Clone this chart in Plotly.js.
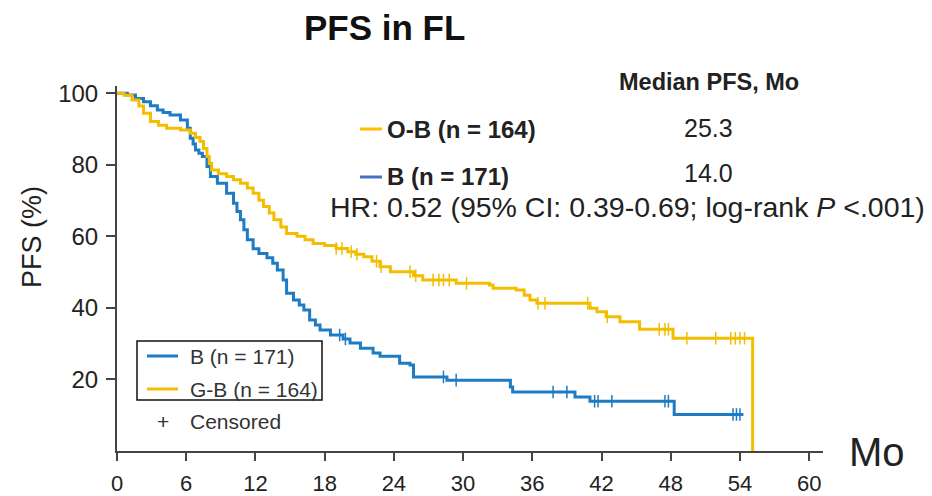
<!DOCTYPE html>
<html>
<head>
<meta charset="utf-8">
<script src="https://cdn.plot.ly/plotly-3.0.1.min.js"></script>
<style>html,body{margin:0;padding:0;background:#fff;}#chart{width:932px;height:496px;}</style>
</head>
<body>
<div id="chart"></div>
<script>
// ---- Data ----
const obTime = [0, 0.6, 1.3, 1.9, 2.3, 2.9, 3.6, 4.3, 5.5, 6.35, 6.8, 7.2, 7.5, 7.8, 8.0, 8.2, 8.8, 9.5, 10.1, 10.7, 11.3, 11.8, 12.3, 12.7, 13.2, 13.6, 14.2, 14.7, 15.6, 16.3, 17.0, 18.0, 19.0, 20.0, 20.7, 21.4, 22.1, 22.8, 23.7, 25.7, 26.5, 29.4, 32.3, 32.6, 34.6, 35.3, 35.8, 36.4, 41.0, 41.6, 42.4, 43.6, 45.3, 48.2, 55.1];
const obSurv = [100, 99.4, 98.1, 96.4, 94.4, 92.1, 91.0, 90.2, 89.7, 88.8, 87.6, 86.5, 84.5, 82.3, 80.4, 78.5, 77.5, 76.7, 75.8, 74.8, 73.5, 72.0, 70.1, 68.3, 66.5, 64.6, 62.6, 60.8, 60.0, 59.0, 58.0, 57.4, 56.6, 55.7, 55.0, 54.3, 53.0, 51.5, 50.1, 49.0, 47.8, 46.9, 46.4, 45.5, 45.0, 43.5, 42.2, 41.3, 39.9, 38.9, 37.5, 36.1, 34.0, 31.5, 0];
const bTime = [0, 0.9, 1.6, 2.3, 2.9, 3.5, 4.0, 4.6, 5.5, 6.1, 6.35, 6.6, 6.8, 7.1, 7.4, 7.8, 8.1, 8.7, 9.5, 10.1, 10.4, 10.7, 11.0, 11.3, 11.8, 12.3, 13.0, 13.5, 13.9, 14.4, 14.7, 15.3, 15.8, 16.2, 16.7, 17.2, 17.6, 18.5, 19.6, 20.2, 21.1, 22.2, 22.8, 24.5, 25.4, 25.7, 28.6, 34.1, 34.3, 39.7, 41.0, 48.3, 54.3];
const bSurv = [100, 99.5, 98.5, 97.6, 96.5, 95.3, 94.6, 93.9, 92.5, 90.2, 87.4, 85.8, 84.1, 83.2, 82.3, 79.5, 76.7, 74.8, 72.0, 69.2, 66.9, 64.6, 61.8, 59.0, 56.5, 55.2, 54.0, 52.5, 50.6, 47.8, 44.1, 42.2, 40.8, 39.4, 36.6, 35.2, 33.8, 32.4, 31.3, 30.2, 28.7, 27.4, 26.5, 24.5, 24.0, 20.7, 19.8, 17.9, 16.5, 15.1, 13.9, 10.2, 10.2];
const obCensor = [19.0, 19.5, 20.3, 20.8, 22.5, 22.9, 25.4, 25.9, 27.4, 27.9, 28.3, 28.8, 30.3, 36.5, 37.1, 40.8, 42.5, 47.0, 47.5, 47.8, 49.4, 51.9, 53.2, 53.6, 54.0, 54.4];
const bCensor = [19.3, 19.8, 28.3, 29.4, 37.8, 39.0, 41.4, 41.7, 42.9, 47.5, 47.8, 53.4, 53.7, 54.0];
const xTicks = [0, 6, 12, 18, 24, 30, 36, 42, 48, 54, 60];
const yTicks = [20, 40, 60, 80, 100];
const legendLabels = ["B (n = 171)", "G-B (n = 164)", "Censored"];
const medianLabels = ["O-B (n = 164)", "B (n = 171)"];
const medianValues = ["25.3", "14.0"];

// ---- Styles ----
const BLUE = "#1d7cc3";
const YELLOW = "#f4be00";
const FONT = "Liberation Sans, Arial, sans-serif";
const TXT = "#222222";

function survAt(times, surv, t) {
  let s = surv[0];
  for (let i = 0; i < times.length; i++) { if (times[i] <= t) s = surv[i]; }
  return s;
}

// pixel -> paper helpers for decorations (plot area 117..823 x 86..451)
const L = 117, R = 823, T = 86, B = 451;
const px = v => (v - L) / (R - L);
const py = v => (B - v) / (B - T);

const traces = [
  {x: bTime, y: bSurv, type: "scatter", mode: "lines", line: {color: BLUE, width: 3, shape: "hv"}, hoverinfo: "skip"},
  {x: obTime, y: obSurv, type: "scatter", mode: "lines", line: {color: YELLOW, width: 3, shape: "hv"}, hoverinfo: "skip"},
  {x: bCensor, y: bCensor.map(t => survAt(bTime, bSurv, t)), type: "scatter", mode: "markers",
   marker: {symbol: "line-ns-open", size: 9, color: BLUE, line: {color: BLUE, width: 1.5}}, hoverinfo: "skip"},
  {x: obCensor, y: obCensor.map(t => survAt(obTime, obSurv, t)), type: "scatter", mode: "markers",
   marker: {symbol: "line-ns-open", size: 9, color: YELLOW, line: {color: YELLOW, width: 1.5}}, hoverinfo: "skip"}
];

const ann = [];
function addText(text, x, y, size, opts) {
  ann.push(Object.assign({text: text, xref: "paper", yref: "paper", x: px(x), y: py(y),
    showarrow: false, xanchor: "left", yanchor: "middle",
    font: {family: FONT, size: size, color: TXT}}, opts || {}));
}
addText("<b>PFS in FL</b>", 384, 27, 35, {xanchor: "center", font: {family: FONT, size: 35, color: "#111"}});
addText("PFS (%)", 32, 237, 27, {xanchor: "center", textangle: -90});
addText("Mo", 877, 452, 40, {xanchor: "center"});
addText("<b>Median PFS, Mo</b>", 709, 82, 23.5, {xanchor: "center"});
addText("<b>" + medianLabels[0] + "</b>", 385, 129, 24);
addText("<b>" + medianLabels[1] + "</b>", 385, 176, 24);
addText(medianValues[0], 708, 128, 25, {xanchor: "center"});
addText(medianValues[1], 708, 173, 25, {xanchor: "center"});
addText("HR: 0.52 (95% CI: 0.39-0.69; log-rank <i>P</i> &lt;.001)", 328, 207, 28.5);
addText(legendLabels[0], 188, 356, 21, {font: {family: FONT, size: 21, color: "#333"}});
addText(legendLabels[1], 188, 389, 21, {font: {family: FONT, size: 21, color: "#333"}});
addText("+", 163, 421, 21, {xanchor: "center", font: {family: FONT, size: 21, color: "#333"}});
addText(legendLabels[2], 188, 421, 21, {font: {family: FONT, size: 21, color: "#333"}});

const shapes = [
  {type: "rect", xref: "paper", yref: "paper", x0: px(137), x1: px(322), y0: py(341), y1: py(400),
   line: {color: "#111", width: 1.5}, fillcolor: "rgba(255,255,255,0)"},
  {type: "line", xref: "paper", yref: "paper", x0: px(147), x1: px(178), y0: py(356), y1: py(356), line: {color: BLUE, width: 3}},
  {type: "line", xref: "paper", yref: "paper", x0: px(147), x1: px(178), y0: py(389), y1: py(389), line: {color: YELLOW, width: 3}},
  {type: "line", xref: "paper", yref: "paper", x0: px(360), x1: px(382), y0: py(129), y1: py(129), line: {color: "#ffc000", width: 3}},
  {type: "line", xref: "paper", yref: "paper", x0: px(360), x1: px(382), y0: py(177), y1: py(177), line: {color: "#4472c4", width: 3}}
];

const layout = {
  width: 932, height: 496,
  margin: {l: L, r: 932 - R, t: T, b: 496 - B, pad: 0},
  paper_bgcolor: "#fff", plot_bgcolor: "#fff",
  showlegend: false,
  font: {family: FONT, color: TXT},
  xaxis: {range: [0, 61.2], tickvals: xTicks, ticktext: xTicks.map(String), ticks: "outside", ticklen: 8, tickwidth: 2,
          tickcolor: "#444", showline: true, linecolor: "#444", linewidth: 2, showgrid: false, zeroline: false,
          tickfont: {family: FONT, size: 22, color: TXT}, fixedrange: true, ticklabelstandoff: 4},
  yaxis: {range: [0, 102], tickvals: yTicks, ticktext: yTicks.map(String), ticks: "outside", ticklen: 9, tickwidth: 2,
          tickcolor: "#444", showline: true, linecolor: "#444", linewidth: 2, showgrid: false, zeroline: false,
          tickfont: {family: FONT, size: 24, color: TXT}, fixedrange: true, ticklabelstandoff: 3},
  annotations: ann,
  shapes: shapes
};

Plotly.newPlot("chart", traces, layout, {staticPlot: true, displayModeBar: false});
</script>
</body>
</html>
